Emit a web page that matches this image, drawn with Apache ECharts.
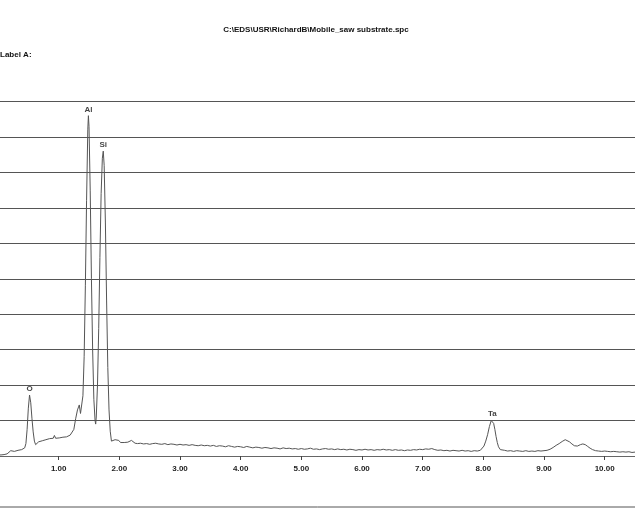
<!DOCTYPE html>
<html>
<head>
<meta charset="utf-8">
<script src="https://cdn.jsdelivr.net/npm/echarts@6/dist/echarts.min.js"></script>
<style>
html, body { margin: 0; padding: 0; background: #fff; }
#main { width: 635px; height: 508px; }
</style>
</head>
<body>
<div id="main"></div>
<script>
// energy in keV, intensity as % of full scale
var energy = [
    0.00, 0.05, 0.10, 0.15, 0.18, 0.21, 0.24, 0.27, 0.30, 0.33, 0.36, 0.39, 0.42, 0.44,
    0.46, 0.48, 0.50, 0.52, 0.54, 0.56, 0.58, 0.60, 0.62, 0.64, 0.67, 0.70, 0.73, 0.76,
    0.79, 0.82, 0.85, 0.88, 0.91, 0.93, 0.95, 0.98, 1.01, 1.04, 1.07, 1.10, 1.13, 1.16,
    1.19, 1.22, 1.25, 1.28, 1.31, 1.34, 1.36, 1.38, 1.40, 1.42, 1.44, 1.46, 1.48, 1.49,
    1.50, 1.52, 1.54, 1.56, 1.58, 1.60, 1.61, 1.62, 1.64, 1.66, 1.68, 1.70, 1.72, 1.735,
    1.75, 1.77, 1.79, 1.81, 1.83, 1.85, 1.87, 1.90, 1.93, 1.96, 1.99, 2.02, 2.05, 2.08,
    2.11, 2.14, 2.17, 2.20, 2.23, 2.26, 2.30, 2.35, 2.40, 2.45, 2.50, 2.55, 2.60, 2.65,
    2.70, 2.75, 2.80, 2.85, 2.90, 2.95, 3.00, 3.05, 3.10, 3.15, 3.20, 3.25, 3.30, 3.35,
    3.40, 3.45, 3.50, 3.55, 3.60, 3.65, 3.70, 3.75, 3.80, 3.85, 3.90, 3.95, 4.00, 4.05,
    4.10, 4.15, 4.20, 4.25, 4.30, 4.35, 4.40, 4.45, 4.50, 4.55, 4.60, 4.65, 4.70, 4.75,
    4.80, 4.85, 4.90, 4.95, 5.00, 5.05, 5.10, 5.15, 5.20, 5.25, 5.30, 5.35, 5.40, 5.45,
    5.50, 5.55, 5.60, 5.65, 5.70, 5.75, 5.80, 5.85, 5.90, 5.95, 6.00, 6.05, 6.10, 6.15,
    6.20, 6.25, 6.30, 6.35, 6.40, 6.45, 6.50, 6.55, 6.60, 6.65, 6.70, 6.75, 6.80, 6.85,
    6.90, 6.95, 7.00, 7.05, 7.10, 7.15, 7.20, 7.25, 7.30, 7.35, 7.40, 7.45, 7.50, 7.55,
    7.60, 7.65, 7.70, 7.75, 7.80, 7.85, 7.90, 7.95, 7.98, 8.01, 8.04, 8.07, 8.10, 8.13,
    8.15, 8.17, 8.19, 8.21, 8.23, 8.25, 8.28, 8.31, 8.35, 8.40, 8.45, 8.50, 8.55, 8.60,
    8.65, 8.70, 8.75, 8.80, 8.85, 8.90, 8.95, 9.00, 9.05, 9.10, 9.15, 9.20, 9.25, 9.30,
    9.35, 9.38, 9.42, 9.46, 9.50, 9.55, 9.60, 9.64, 9.68, 9.72, 9.76, 9.80, 9.85, 9.90,
    9.95, 10.00, 10.05, 10.10, 10.15, 10.20, 10.25, 10.30, 10.35, 10.40, 10.45, 10.50
];
var counts = [
    0.3, 0.3, 0.4, 0.6, 1.0, 1.5, 1.7, 1.3, 1.4, 1.6, 1.5, 1.8, 2.0, 2.3,
    3.5, 7.5, 13.5, 17.2, 15.0, 10.5, 6.8, 4.2, 3.2, 3.6, 4.0, 3.8, 4.3, 4.1,
    4.6, 4.4, 4.9, 4.7, 5.0, 5.8, 5.0, 5.3, 5.1, 5.5, 5.3, 5.6, 5.4, 5.8,
    5.9, 6.4, 7.5, 10.5, 13.0, 14.4, 12.0, 11.5, 17, 28, 48, 72, 92, 96,
    93, 75, 50, 30, 16, 10, 9, 11, 20, 36, 56, 74, 84, 86,
    82, 66, 44, 25, 13, 7, 4.2, 4.0, 4.6, 5.0, 4.4, 3.8, 3.6, 3.8,
    3.7, 3.9, 4.2, 4.4, 4.0, 3.6, 3.5, 3.6, 3.4, 3.5, 3.3, 3.5, 3.6, 3.4,
    3.3, 3.5, 3.2, 3.4, 3.3, 3.1, 3.3, 3.1, 3.2, 3.0, 3.2, 3.0, 2.9, 3.1,
    2.9, 3.0, 2.8, 3.0, 2.7, 2.9, 2.8, 2.6, 2.9, 2.7, 2.5, 2.7, 2.6, 2.4,
    2.7, 2.5, 2.3, 2.5, 2.4, 2.2, 2.4, 2.3, 2.1, 2.3, 2.2, 2.0, 2.3, 2.1,
    2.2, 2.0, 2.1, 1.9, 2.1, 1.9, 2.0, 2.2, 1.9, 2.0, 1.8, 2.0, 2.1, 1.9,
    2.0, 1.8, 2.0, 1.8, 1.9, 1.7, 1.9, 1.8, 1.6, 1.8, 1.7, 1.9, 1.7, 1.8,
    1.6, 1.8, 1.7, 1.9, 1.7, 1.8, 1.6, 1.8, 1.6, 1.7, 1.5, 1.7, 1.6, 1.8,
    1.7, 1.9, 1.8, 2.0, 1.9, 2.1, 1.8, 1.6, 1.7, 1.5, 1.6, 1.4, 1.6, 1.5,
    1.4, 1.6, 1.4, 1.5, 1.3, 1.5, 1.4, 1.6, 1.9, 2.8, 4.2, 6.0, 8.3, 10.0,
    10.2, 9.2, 7.5, 5.5, 3.8, 2.6, 1.8, 1.5, 1.6, 1.4, 1.5, 1.3, 1.5, 1.4,
    1.3, 1.5, 1.3, 1.4, 1.3, 1.5, 1.4, 1.5, 1.6, 1.9, 2.4, 3.0, 3.5, 4.1,
    4.6, 4.3, 4.0, 3.4, 2.9, 2.8, 3.2, 3.4, 3.2, 2.7, 2.2, 1.8, 1.5, 1.4,
    1.3, 1.4, 1.3, 1.2, 1.3, 1.2, 1.1, 1.2, 1.1, 1.2, 1.0, 1.1
];
var peakNames = ['O', 'Al', 'Si', 'Ta'];
var peakEnergy = [0.52, 1.49, 1.735, 8.15];
var peakHeight = [17.2, 96, 86, 10.2];

var chart = echarts.init(document.getElementById('main'));
var font = "'Liberation Sans Narrow', 'Arial Narrow', 'Liberation Sans', sans-serif";

var spectrum = energy.map(function (e, i) { return [e, counts[i]]; });
var peaks = peakNames.map(function (n, i) { return [peakEnergy[i], peakHeight[i], n]; });

var option = {
    animation: false,
    backgroundColor: '#fff',
    title: [{
        text: 'C:\\EDS\\USR\\RichardB\\Mobile_saw substrate.spc',
        left: 316,
        textAlign: 'center',
        top: 26,
        padding: 0,
        textStyle: { fontFamily: font, fontSize: 8, fontWeight: 'bold', color: '#111' }
    }, {
        text: 'Label A:',
        left: 0,
        top: 51,
        padding: 0,
        textStyle: { fontFamily: font, fontSize: 8, fontWeight: 'bold', color: '#111' }
    }],
    grid: {
        left: -2, right: 0, top: 101.5, bottom: 52,
        containLabel: false,
        outerBoundsMode: 'none'
    },
    xAxis: {
        type: 'value',
        min: 0,
        max: 10.5,
        interval: 1,
        offset: 2,
        axisLine: { lineStyle: { color: '#666', width: 1 } },
        axisTick: { length: 4, lineStyle: { color: '#444' } },
        axisLabel: {
            margin: 7,
            fontFamily: font,
            fontSize: 8,
            fontWeight: 'bold',
            color: '#222',
            showMaxLabel: false,
            formatter: function (v) { return v === 0 ? '' : v.toFixed(2); }
        },
        splitLine: { show: false }
    },
    yAxis: {
        type: 'value',
        min: 0,
        max: 100,
        interval: 10,
        axisLine: { show: false },
        axisTick: { show: false },
        axisLabel: { show: false },
        splitLine: { lineStyle: { color: '#555', width: 1 } }
    },
    graphic: [{
        type: 'line',
        shape: { x1: 0, y1: 507, x2: 635, y2: 507 },
        style: { stroke: '#555', lineWidth: 1 }
    }],
    series: [{
        type: 'line',
        data: spectrum,
        showSymbol: false,
        lineStyle: { color: '#555', width: 1 }
    }, {
        type: 'scatter',
        data: peaks,
        symbolSize: 0,
        label: {
            show: true,
            position: 'top',
            distance: 2,
            fontFamily: font,
            fontSize: 8,
            fontWeight: 'bold',
            color: '#111',
            formatter: function (p) { return p.data[2]; }
        }
    }]
};
chart.setOption(option);
</script>
</body>
</html>
